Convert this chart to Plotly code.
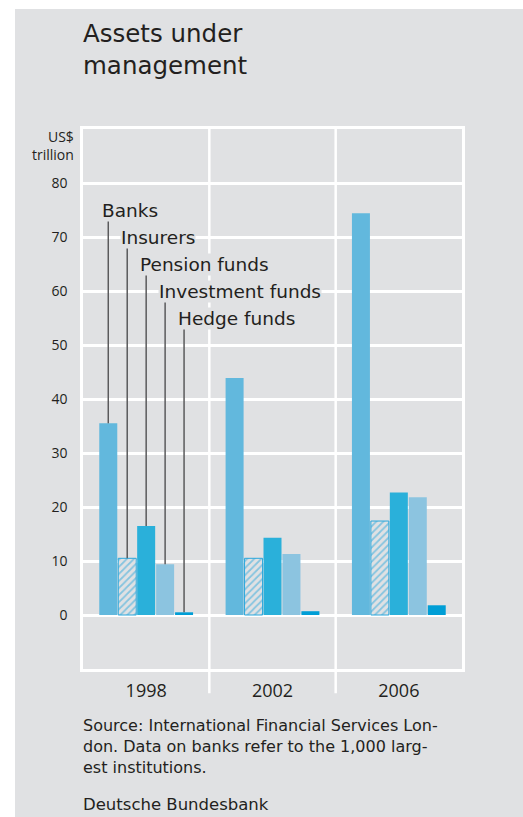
import plotly.graph_objects as go

years = ["1998", "2002", "2006"]
series = ["Banks", "Insurers", "Pension funds", "Investment funds", "Hedge funds"]
banks = [35.5, 43.9, 74.4]
insurers = [10.5, 10.5, 17.4]
pension = [16.5, 14.3, 22.7]
investment = [9.4, 11.3, 21.8]
hedge = [0.5, 0.7, 1.8]
values = [banks, insurers, pension, investment, hedge]
y_ticks = [0, 10, 20, 30, 40, 50, 60, 70, 80]

colors = ["#62b8dd", "#2aa7dc", "#2ab0da", "#8cc4e0", "#009ed6"]
BG = "#e0e1e3"
TXT = "#231f20"
FONT = "Open Sans"
WFONT = "DejaVu Sans"
bargap = 0.25

fig = go.Figure()
for i, (name, vals) in enumerate(zip(series, values)):
    if name == "Insurers":
        marker = dict(color=BG, line=dict(color=colors[i], width=1),
                      pattern=dict(shape="/", fgcolor=colors[i], bgcolor=BG,
                                   size=5, solidity=0.35))
    else:
        marker = dict(color=colors[i], line=dict(width=0))
    fig.add_trace(go.Bar(x=years, y=vals, name=name, marker=marker))

# background panel
fig.add_shape(type="rect", xref="paper", yref="paper",
              x0=(15 - 83) / 379, x1=(523 - 83) / 379,
              y0=(669 - 817) / 540, y1=(669 - 9) / 540,
              fillcolor=BG, line=dict(width=0), layer="below")

# category separators extending below the plot
for k in range(len(years) - 1):
    fig.add_shape(type="line", xref="x", yref="paper", x0=k + 0.5, x1=k + 0.5,
                  y0=-0.045, y1=1, line=dict(color="white", width=2.5), layer="below")

# leader lines and labels
slot = (1 - bargap) / len(series)
label_y = [75, 70, 65, 60, 55]
for i, name in enumerate(series):
    off = (i - (len(series) - 1) / 2) * slot
    fig.add_shape(type="line", xref="x", yref="y", x0=off, x1=off,
                  y0=values[i][0], y1=label_y[i] - 2,
                  line=dict(color="#5a5a5c", width=1.5))
    fig.add_annotation(x=off, y=label_y[i], xref="x", yref="y", text=name,
                       showarrow=False, xanchor="left", yanchor="middle", xshift=-7,
                       bgcolor=BG, borderpad=0,
                       font=dict(family=WFONT, size=18.5, color=TXT))

# title
fig.add_annotation(xref="paper", yref="paper", x=0, y=(669 - 50) / 540,
                   text="Assets under<br>management", showarrow=False,
                   xanchor="left", yanchor="middle", align="left", xshift=-2,
                   font=dict(family=WFONT, size=24.5, color=TXT))

fig.add_annotation(xref="paper", yref="paper", x=0, y=(669 - 146) / 540,
                   text="US$<br>trillion", showarrow=False, xanchor="right",
                   yanchor="middle", align="right", xshift=-7,
                   font=dict(family=FONT, size=14, color=TXT))

fig.add_annotation(xref="paper", yref="paper", x=0, y=(669 - 746) / 540,
                   text="Source: International Financial Services Lon-<br>"
                        "don. Data on banks refer to the 1,000 larg-<br>"
                        "est institutions.",
                   showarrow=False, xanchor="left", yanchor="middle", align="left",
                   xshift=-2, font=dict(family=WFONT, size=16, color=TXT))
fig.add_annotation(xref="paper", yref="paper", x=0, y=(669 - 804) / 540,
                   text="Deutsche Bundesbank", showarrow=False, xanchor="left",
                   xshift=-2, yanchor="middle",
                   font=dict(family=WFONT, size=16.5, color=TXT))

fig.update_layout(
    width=523, height=817,
    margin=dict(l=83, r=61, t=129, b=148),
    paper_bgcolor="white", plot_bgcolor=BG,
    barmode="group", bargap=bargap, bargroupgap=0.05,
    showlegend=False,
    font=dict(family=FONT, color=TXT),
    xaxis=dict(type="category", showgrid=False, showline=True, mirror=True,
               linecolor="white", linewidth=2.5, ticks="",
               tickfont=dict(size=18, color=TXT), ticklabelstandoff=4),
    yaxis=dict(range=[-10, 90], tickvals=y_ticks, showgrid=True, gridcolor="white",
               gridwidth=2.5, zeroline=True, zerolinecolor="white", zerolinewidth=2.5,
               showline=True, mirror=True, linecolor="white", linewidth=2.5,
               ticks="", tickfont=dict(size=14, color=TXT), ticklabelstandoff=10),
)

fig.write_html("out.html")
